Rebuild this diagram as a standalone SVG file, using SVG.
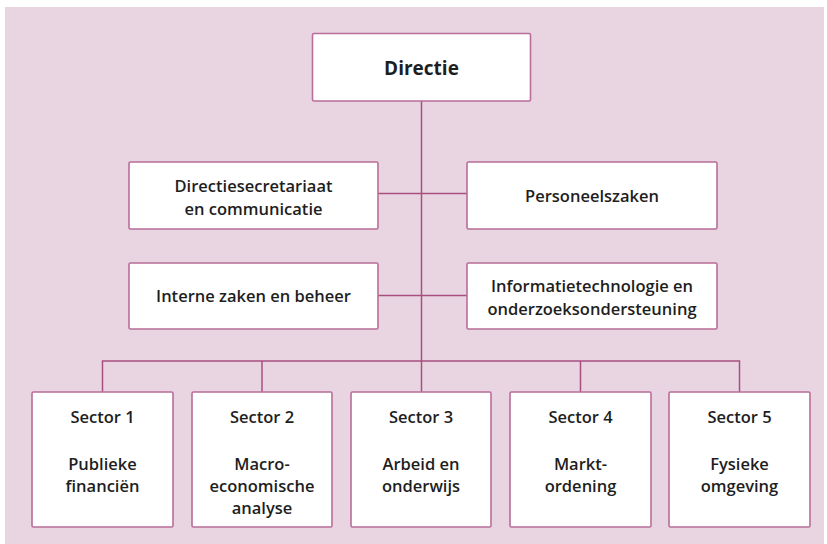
<svg xmlns="http://www.w3.org/2000/svg" width="827" height="544" viewBox="0 0 827 544">
<style>
.bg{fill:#e9d4e2}
.box{fill:#ffffff;stroke:#b86e98;stroke-width:1.6}
.ln{fill:none;stroke:#a94f80;stroke-width:1.5}
text{font-family:"Open Sans","Noto Sans","Liberation Sans",sans-serif;font-size:16.5px;font-weight:600;fill:#1e1e1e;text-anchor:middle}
.t{font-size:19px;font-weight:700}
</style>
<rect x="0" y="0" width="827" height="544" fill="#ffffff"/>
<rect class="bg" x="5" y="7" width="819" height="537"/>
<g id="connectors">
<line class="ln" x1="421.5" y1="101" x2="421.5" y2="392"/>
<line class="ln" x1="378" y1="193.5" x2="467" y2="193.5"/>
<line class="ln" x1="378" y1="295.5" x2="467" y2="295.5"/>
<polyline class="ln" points="102.5,392 102.5,361 739.5,361 739.5,392"/>
<line class="ln" x1="262" y1="361" x2="262" y2="392"/>
<line class="ln" x1="580.5" y1="361" x2="580.5" y2="392"/>
</g>
<g id="directie">
<rect class="box" x="312.5" y="33.5" width="218" height="67.5" rx="1.5"/>
<text class="t" x="421.5" y="75">Directie</text>
</g>
<g id="directiesecretariaat">
<rect class="box" x="129" y="162" width="249" height="67" rx="1.5"/>
<text x="253.5" y="192">Directiesecretariaat</text>
<text x="253.5" y="215">en communicatie</text>
</g>
<g id="personeelszaken">
<rect class="box" x="467" y="162" width="250" height="67" rx="1.5"/>
<text x="592" y="202">Personeelszaken</text>
</g>
<g id="interne-zaken">
<rect class="box" x="129" y="263" width="249" height="66" rx="1.5"/>
<text x="253.5" y="302">Interne zaken en beheer</text>
</g>
<g id="informatietechnologie">
<rect class="box" x="467" y="263" width="250" height="66" rx="1.5"/>
<text x="592" y="292">Informatietechnologie en</text>
<text x="592" y="315">onderzoeksondersteuning</text>
</g>
<g id="sector1">
<rect class="box" x="32" y="392" width="141" height="135" rx="1.5"/>
<text x="102.5" y="423">Sector 1</text>
<text x="102.5" y="470">Publieke</text>
<text x="102.5" y="492">financiën</text>
</g>
<g id="sector2">
<rect class="box" x="192" y="392" width="140" height="135" rx="1.5"/>
<text x="262" y="423">Sector 2</text>
<text x="262" y="470">Macro-</text>
<text x="262" y="492">economische</text>
<text x="262" y="514">analyse</text>
</g>
<g id="sector3">
<rect class="box" x="351" y="392" width="140" height="135" rx="1.5"/>
<text x="421" y="423">Sector 3</text>
<text x="421" y="470">Arbeid en</text>
<text x="421" y="492">onderwijs</text>
</g>
<g id="sector4">
<rect class="box" x="510" y="392" width="141" height="135" rx="1.5"/>
<text x="580.5" y="423">Sector 4</text>
<text x="580.5" y="470">Markt-</text>
<text x="580.5" y="492">ordening</text>
</g>
<g id="sector5">
<rect class="box" x="669" y="392" width="141" height="135" rx="1.5"/>
<text x="739.5" y="423">Sector 5</text>
<text x="739.5" y="470">Fysieke</text>
<text x="739.5" y="492">omgeving</text>
</g>
</svg>
